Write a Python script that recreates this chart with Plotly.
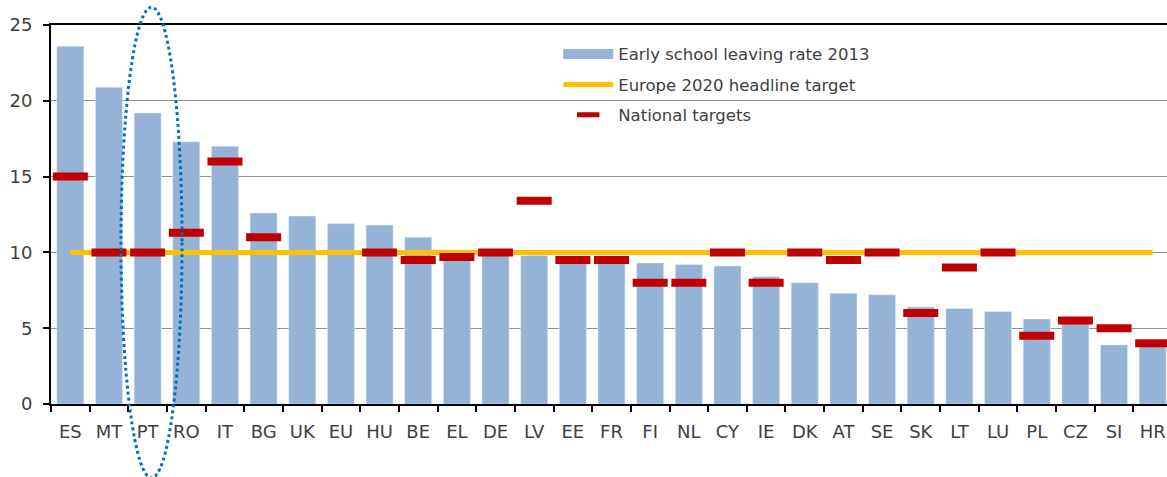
import plotly.graph_objects as go

countries = ['ES', 'MT', 'PT', 'RO', 'IT', 'BG', 'UK', 'EU', 'HU', 'BE', 'EL', 'DE', 'LV', 'EE',
             'FR', 'FI', 'NL', 'CY', 'IE', 'DK', 'AT', 'SE', 'SK', 'LT', 'LU', 'PL', 'CZ', 'SI', 'HR']

# early school leaving rate 2013 (%)
esl_2013 = [23.6, 20.9, 19.2, 17.3, 17.0, 12.6, 12.4, 11.9, 11.8, 11.0, 10.1, 9.9, 9.8, 9.7,
            9.7, 9.3, 9.2, 9.1, 8.4, 8.0, 7.3, 7.2, 6.4, 6.3, 6.1, 5.6, 5.4, 3.9, 3.9]

# Europe 2020 headline target
eu_target = 10

# national targets (no target for UK and EU)
national_targets = [15, 10, 10, 11.3, 16, 11, None, None, 10, 9.5, 9.7, 10, 13.4, 9.5,
                    9.5, 8, 8, 10, 8, 10, 9.5, 10, 6, 9, 10, 4.5, 5.5, 5, 4]

highlight = 'PT'

x_range = [-0.5, 28.37]

fig = go.Figure()

fig.add_trace(go.Bar(
    x=countries, y=esl_2013,
    name='Early school leaving rate 2013',
    marker_color='#95B3D7',
    width=0.7,
    showlegend=False
))
# wide swatch for the bar legend entry
fig.add_trace(go.Scatter(
    x=[None], y=[None], mode='lines',
    name='Early school leaving rate 2013',
    line=dict(color='#95B3D7', width=10),
    legendgroup='a'
))

fig.add_trace(go.Scatter(
    x=countries, y=[eu_target] * len(countries),
    mode='lines',
    name='Europe 2020 headline target',
    line=dict(color='#FFC000', width=5),
    legendgroup='b'
))

fig.add_trace(go.Scatter(
    x=countries, y=national_targets,
    mode='markers',
    name='National targets',
    marker=dict(symbol='line-ew', size=25, color='#C00000',
                line=dict(color='#C00000', width=8)),
    legendgroup='c'
))

# dotted ellipse around PT (paper coords so it can run past the plot area)
i = countries.index(highlight)
span = x_range[1] - x_range[0]
fig.add_shape(type='circle', xref='paper', yref='paper',
              x0=(i - 0.69 - x_range[0]) / span, x1=(i + 0.89 - x_range[0]) / span,
              y0=-0.195, y1=1.047,
              line=dict(color='#0070C0', width=3, dash='dot'))

fig.update_layout(
    width=1167, height=477,
    margin=dict(l=51, r=0, t=25, b=73),
    plot_bgcolor='white',
    paper_bgcolor='white',
    font=dict(family='DejaVu Sans', color='#404040', size=18),
    legend=dict(x=0.4545, y=0.969, xanchor='left', yanchor='top',
                bgcolor='rgba(0,0,0,0)', font=dict(size=16.5, color='#404040'),
                itemwidth=50, tracegroupgap=6)
)

fig.update_xaxes(
    range=x_range,
    showline=True, linecolor='black', linewidth=2, mirror=True,
    ticks='outside', tickson='boundaries', ticklen=6, tickcolor='black', tickwidth=2,
    ticklabelstandoff=10,
    showgrid=False
)
fig.update_yaxes(
    range=[0, 25], dtick=5,
    showline=True, linecolor='black', linewidth=2,
    ticks='outside', ticklen=6, tickcolor='black', tickwidth=2,
    ticklabelstandoff=7,
    showgrid=True, gridcolor='#909090', gridwidth=1,
    zeroline=False
)

config = {'displayModeBar': False}
fig.write_html('out.html', config=config,
               post_script="document.body.style.margin='0';document.body.style.overflow='hidden';")
